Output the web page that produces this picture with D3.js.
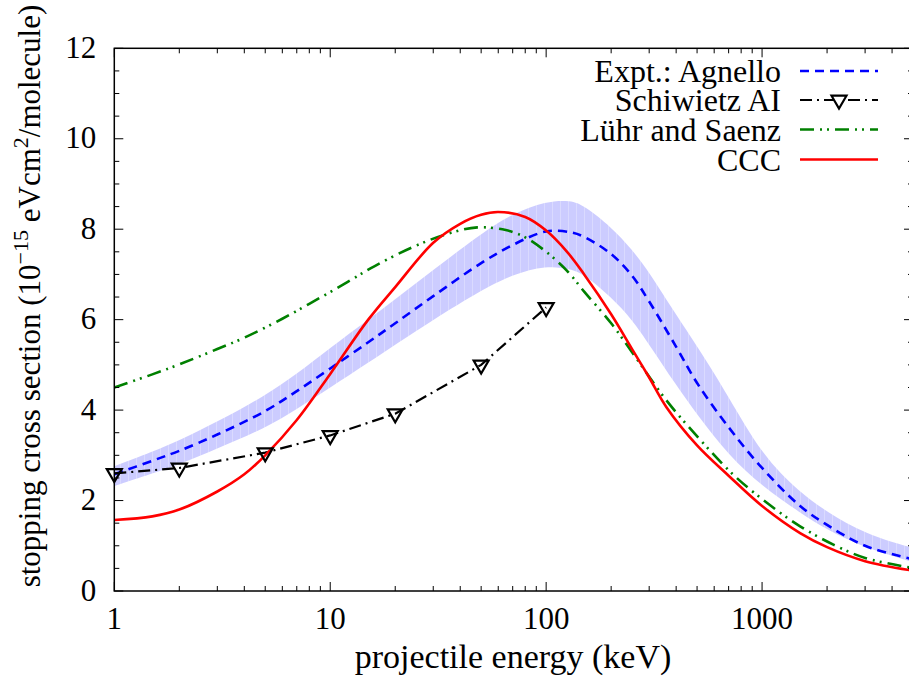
<!DOCTYPE html>
<html>
<head>
<meta charset="utf-8">
<script src="https://cdn.jsdelivr.net/npm/d3@7"></script>
<style>
  body { margin: 0; background: #fff; }
</style>
</head>
<body>
<svg id="chart" width="909" height="686"></svg>
<script>
// Stopping cross section of molecules for protons vs projectile energy

// Experiment (Agnello): energies (keV), central values and uncertainty band
const agnelloE     = [1, 1.5, 2, 3, 5, 7, 10, 15, 20, 30, 50, 70, 100, 130, 150, 200, 250, 300, 400, 500, 700, 1000, 1500, 2000, 3000, 5000];
const agnelloS     = [2.58, 2.88, 3.10, 3.46, 3.98, 4.42, 4.92, 5.50, 5.92, 6.52, 7.25, 7.65, 7.95, 7.93, 7.83, 7.45, 6.97, 6.40, 5.40, 4.60, 3.62, 2.72, 1.88, 1.46, 1.00, 0.70];
const agnelloUpper = [2.76, 3.08, 3.33, 3.74, 4.32, 4.80, 5.38, 6.00, 6.45, 7.10, 7.90, 8.35, 8.62, 8.64, 8.52, 8.05, 7.55, 7.05, 6.10, 5.42, 4.30, 3.00, 2.17, 1.75, 1.26, 0.95];
const agnelloLower = [2.32, 2.60, 2.80, 3.15, 3.60, 4.02, 4.50, 5.05, 5.45, 6.00, 6.65, 7.00, 7.20, 7.12, 7.00, 6.50, 6.00, 5.45, 4.55, 3.90, 3.00, 2.32, 1.73, 1.35, 0.95, 0.64];

// Schiwietz AI
const schiwietzE = [1, 2, 5, 10, 20, 50, 100];
const schiwietzS = [2.60, 2.72, 3.06, 3.44, 3.92, 5.00, 6.27];

// Lühr and Saenz
const luhrE = [1, 1.5, 2, 3, 4, 6, 8, 12, 16, 24, 35, 48, 65, 80, 100, 125, 150, 200, 250, 360, 520, 740, 1060, 1500, 2150, 3050, 5000];
const luhrS = [4.50, 4.79, 5.01, 5.35, 5.60, 6.02, 6.35, 6.83, 7.18, 7.60, 7.90, 8.04, 7.98, 7.82, 7.50, 7.08, 6.62, 5.92, 5.28, 4.22, 3.33, 2.56, 1.94, 1.43, 1.02, 0.72, 0.51];

// CCC
const cccE = [1, 1.5, 2, 3, 4, 5, 7, 10, 15, 20, 30, 40, 50, 60, 80, 100, 125, 150, 200, 250, 300, 360, 500, 700, 1000, 1500, 2000, 3000, 5000];
const cccS = [1.57, 1.65, 1.80, 2.20, 2.58, 3.00, 3.78, 4.80, 6.00, 6.72, 7.70, 8.12, 8.32, 8.38, 8.27, 7.97, 7.50, 7.00, 6.12, 5.35, 4.72, 4.07, 3.22, 2.55, 1.88, 1.28, 0.97, 0.66, 0.45];

// Axis ticks
const xMajorTicks = [1, 10, 100, 1000];
const xMinorTicks = [2,3,4,5,6,7,8,9, 20,30,40,50,60,70,80,90, 200,300,400,500,600,700,800,900, 2000,3000,4000];
const yMajorTicks = [0, 2, 4, 6, 8, 10, 12];
const yMinorTicks = [0.5,1,1.5,2.5,3,3.5,4.5,5,5.5,6.5,7,7.5,8.5,9,9.5,10.5,11,11.5];

const legendLabels = ["Expt.: Agnello", "Schiwietz AI", "Lühr and Saenz", "CCC"];

const plotL = 114.3, plotR = 913, plotT = 48.3, plotB = 591;

const svg = d3.select("#chart");
const x = d3.scaleLog().domain([1, 5000]).range([plotL, plotR]);
const y = d3.scaleLinear().domain([0, 12]).range([plotB, plotT]);

// serif text helper
function serif(sel, size) {
  return sel.style("font-family", "\"Liberation Serif\"").style("font-size", size + "px").attr("fill", "#000");
}

const defs = svg.append("defs");
defs.append("clipPath").attr("id", "plotClip")
  .append("rect").attr("x", plotL).attr("y", plotT)
  .attr("width", plotR - plotL).attr("height", plotB - plotT);

// light band with faint vertical striping
const pat = defs.append("pattern").attr("id", "bandFill")
  .attr("patternUnits", "userSpaceOnUse").attr("width", 8).attr("height", 8);
pat.append("rect").attr("width", 8).attr("height", 8).attr("fill", "#ccccff");
pat.append("rect").attr("width", 1).attr("height", 8).attr("fill", "#dadaff");

const plot = svg.append("g").attr("clip-path", "url(#plotClip)");

// uncertainty band
const bandData = agnelloE.map((e, i) => ({ e, lo: agnelloLower[i], hi: agnelloUpper[i] }));
plot.append("path")
  .datum(bandData)
  .attr("fill", "url(#bandFill)")
  .attr("d", d3.area()
    .x(d => x(d.e)).y0(d => y(d.lo)).y1(d => y(d.hi))
    .curve(d3.curveBasis));

const smooth = d3.line().x(d => x(d[0])).y(d => y(d[1])).curve(d3.curveCatmullRom.alpha(0.5));
const straight = d3.line().x(d => x(d[0])).y(d => y(d[1]));

const styles = {
  agnello:   { color: "#0000ff", width: 2.6, dash: "9,6" },
  schiwietz: { color: "#000000", width: 2.2, dash: "12,5,2,5" },
  luhr:      { color: "#008000", width: 2.6, dash: "14,6,2,5,2,6" },
  ccc:       { color: "#ff0000", width: 2.6, dash: null }
};

function drawLine(es, ss, st, gen) {
  plot.append("path")
    .datum(es.map((e, i) => [e, ss[i]]))
    .attr("fill", "none")
    .attr("stroke", st.color)
    .attr("stroke-width", st.width)
    .attr("stroke-dasharray", st.dash)
    .attr("d", gen);
}

drawLine(agnelloE, agnelloS, styles.agnello, smooth);
drawLine(schiwietzE, schiwietzS, styles.schiwietz, straight);

// down-pointing open triangles, centred on their centroid
const tri = "M-7.5,-4.3L7.5,-4.3L0,8.6Z";
svg.append("g").selectAll("path")
  .data(schiwietzE.map((e, i) => [e, schiwietzS[i]]))
  .join("path")
  .attr("transform", d => `translate(${x(d[0])},${y(d[1])})`)
  .attr("d", tri)
  .attr("fill", "none")
  .attr("stroke", "#000")
  .attr("stroke-width", 2.2)
  .attr("stroke-linejoin", "miter");

drawLine(luhrE, luhrS, styles.luhr, smooth);
drawLine(cccE, cccS, styles.ccc, smooth);

// tick marks pointing inward on all four sides
const ticks = svg.append("g").attr("stroke", "#000").attr("stroke-width", 1);
function xTicks(vals, len) {
  vals.forEach(v => {
    ticks.append("line").attr("x1", x(v)).attr("x2", x(v)).attr("y1", plotB).attr("y2", plotB - len);
    ticks.append("line").attr("x1", x(v)).attr("x2", x(v)).attr("y1", plotT).attr("y2", plotT + len);
  });
}
function yTicks(vals, len) {
  vals.forEach(v => {
    ticks.append("line").attr("y1", y(v)).attr("y2", y(v)).attr("x1", plotL).attr("x2", plotL + len);
    ticks.append("line").attr("y1", y(v)).attr("y2", y(v)).attr("x1", plotR).attr("x2", plotR - len);
  });
}
xTicks(xMajorTicks, 9); xTicks(xMinorTicks, 5);
yTicks(yMajorTicks, 9); yTicks(yMinorTicks, 5);

// tick labels
const fontTick = 31;
const labels = svg.append("g");
xMajorTicks.forEach(v => {
  serif(labels.append("text"), fontTick)
    .attr("x", x(v)).attr("y", plotB + 38)
    .attr("text-anchor", "middle")
    .text(d3.format("d")(v));
});
yMajorTicks.forEach(v => {
  serif(labels.append("text"), fontTick)
    .attr("x", plotL - 18).attr("y", y(v) + 9.5)
    .attr("text-anchor", "end")
    .text(d3.format("d")(v));
});

// frame
svg.append("rect")
  .attr("x", plotL).attr("y", plotT)
  .attr("width", plotR - plotL).attr("height", plotB - plotT)
  .attr("fill", "none").attr("stroke", "#000").attr("stroke-width", 1.5);

// axis titles
serif(svg.append("text"), 34)
  .attr("x", 513).attr("y", 668)
  .attr("text-anchor", "middle")
  .text("projectile energy (keV)");

const yTitle = serif(svg.append("text"), 31)
  .attr("transform", "translate(40,296) rotate(-90)")
  .attr("text-anchor", "middle");
yTitle.append("tspan").text("stopping cross section (10");
yTitle.append("tspan").attr("dy", -12).style("font-size", "22px").text("\u221215");
yTitle.append("tspan").attr("dy", 12).text(" eVcm");
yTitle.append("tspan").attr("dy", -12).style("font-size", "22px").text("2");
yTitle.append("tspan").attr("dy", 12).text("/molecule)");

// legend
const legendRowY = [71, 100, 129.5, 159.5];
const legendStyles = [styles.agnello, styles.schiwietz, styles.luhr, styles.ccc];
const legend = svg.append("g");
legendLabels.forEach((lab, i) => {
  const ry = legendRowY[i];
  serif(legend.append("text"), 32)
    .attr("x", 781).attr("y", ry + 11)
    .attr("text-anchor", "end")
    .text(lab);
  const st = legendStyles[i];
  legend.append("line")
    .attr("x1", 800).attr("x2", 878).attr("y1", ry).attr("y2", ry)
    .attr("stroke", st.color).attr("stroke-width", st.width)
    .attr("stroke-dasharray", st.dash);
  if (i === 1) {
    legend.append("path")
      .attr("transform", `translate(839,${ry})`)
      .attr("d", tri)
      .attr("fill", "#fff").attr("stroke", "#000").attr("stroke-width", 2.2);
  }
});
</script>
</body>
</html>
